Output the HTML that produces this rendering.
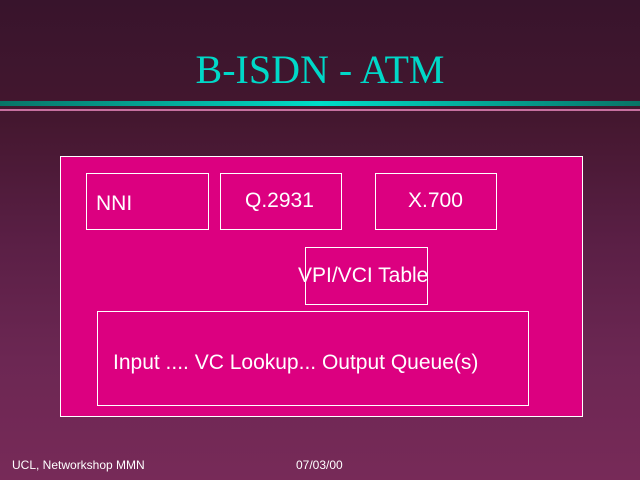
<!DOCTYPE html>
<html><head><meta charset="utf-8"><style>
html,body{margin:0;padding:0}
body{width:640px;height:480px;position:relative;overflow:hidden;
background:linear-gradient(to bottom,#38142c 0%,#44172f 25%,#5a1f45 50%,#6c2753 75%,#772a58 100%);
font-family:"Liberation Sans",sans-serif;color:#fff}
.a{position:absolute}
.t{left:0;width:640px;text-align:center;top:46px;font-family:"Liberation Serif",serif;font-size:40px;color:#00d8c8;line-height:48px}
.r1{left:0;top:101px;width:640px;height:5px;background:linear-gradient(to right,#087466,#00dcc8 50%,#087466)}
.r2{left:0;top:109px;width:640px;height:2px;background:#c870a0}
.b{position:absolute;border:1px solid #fff;box-sizing:border-box}
.txt{position:absolute;font-size:21px;white-space:nowrap;line-height:24px}
</style></head><body>
<div class="a t">B-ISDN - ATM</div>
<div class="a r1"></div>
<div class="a r2"></div>
<div class="b" style="left:60px;top:156px;width:523px;height:261px;background:#dc0080"></div>
<div class="b" style="left:86px;top:173px;width:123px;height:57px"></div>
<div class="b" style="left:220px;top:173px;width:122px;height:57px"></div>
<div class="b" style="left:375px;top:173px;width:122px;height:57px"></div>
<div class="b" style="left:305px;top:247px;width:123px;height:58px"></div>
<div class="b" style="left:97px;top:311px;width:432px;height:95px"></div>
<div class="txt" style="left:96px;top:192px">NNI</div>
<div class="txt" style="left:245px;top:189px">Q.2931</div>
<div class="txt" style="left:408px;top:189px">X.700</div>
<div class="txt" style="left:298px;top:264px">VPI/VCI Table</div>
<div class="txt" style="left:113px;top:351px">Input .... VC Lookup... Output Queue(s)</div>
<div class="txt" style="left:12px;top:458px;font-size:12px;line-height:14px">UCL, Networkshop MMN</div>
<div class="txt" style="left:296px;top:458px;font-size:12px;line-height:14px">07/03/00</div>
</body></html>
